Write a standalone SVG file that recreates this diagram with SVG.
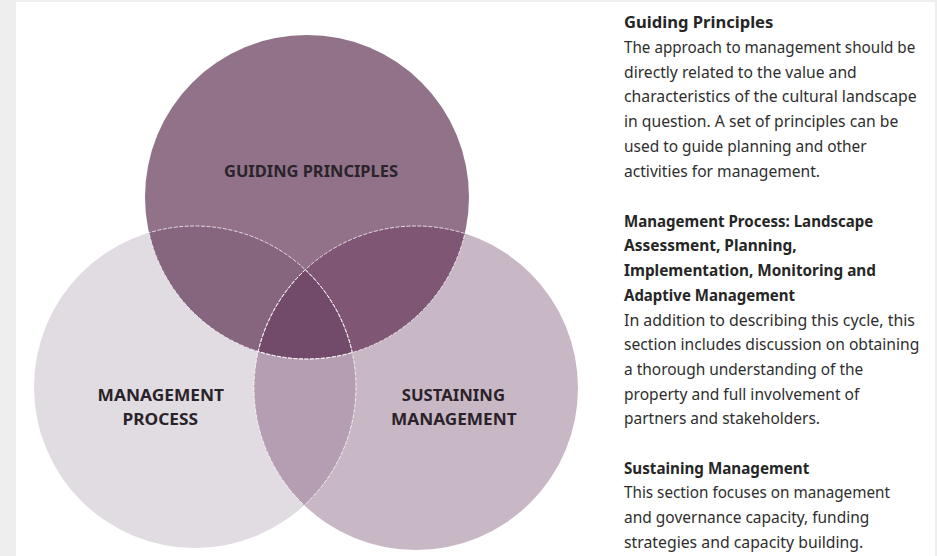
<svg xmlns="http://www.w3.org/2000/svg" width="937" height="556" viewBox="0 0 937 556">
<style>
.lbl{font-family:"Noto Sans","Open Sans","Liberation Sans",sans-serif;font-weight:bold;font-size:16.5px;fill:#2a2329;}
.hd{font-family:"Noto Sans","Liberation Sans",sans-serif;font-weight:bold;font-size:16.5px;fill:#262626;}
.tx{font-family:"Noto Sans","Liberation Sans",sans-serif;font-size:16.5px;fill:#2e2e2e;}
.edge{fill:none;stroke:#ffffff;stroke-width:0.9;stroke-dasharray:4 1.5;opacity:0.85;}
</style>
<defs>
<clipPath id="cT"><circle cx="307" cy="197" r="162"/></clipPath>
<clipPath id="cL"><circle cx="195" cy="387" r="161"/></clipPath>
<clipPath id="cR"><circle cx="416" cy="388" r="162"/></clipPath>
</defs>
<rect x="0" y="0" width="937" height="556" fill="#eeeeee"/>
<rect x="16" y="2" width="919" height="554" fill="#ffffff"/>

<g id="circle-management-process">
<circle cx="195" cy="387" r="161" fill="#e1dbe2"/>
</g>
<g id="circle-sustaining-management">
<circle cx="416" cy="388" r="162" fill="#c8b8c5"/>
</g>
<g id="circle-guiding-principles">
<circle cx="307" cy="197" r="162" fill="#917289"/>
</g>
<g id="overlaps">
<circle cx="195" cy="387" r="161" fill="#86657f" clip-path="url(#cT)"/>
<circle cx="416" cy="388" r="162" fill="#7f5674" clip-path="url(#cT)"/>
<circle cx="416" cy="388" r="162" fill="#b59eb2" clip-path="url(#cL)"/>
<g clip-path="url(#cT)"><circle cx="416" cy="388" r="162" fill="#734b6a" clip-path="url(#cL)"/></g>
</g>
<g id="connectors">
<circle class="edge" cx="307" cy="197" r="162" clip-path="url(#cL)"/>
<circle class="edge" cx="307" cy="197" r="162" clip-path="url(#cR)"/>
<circle class="edge" cx="195" cy="387" r="161" clip-path="url(#cT)"/>
<circle class="edge" cx="195" cy="387" r="161" clip-path="url(#cR)"/>
<circle class="edge" cx="416" cy="388" r="162" clip-path="url(#cT)"/>
<circle class="edge" cx="416" cy="388" r="162" clip-path="url(#cL)"/>
</g>
<g id="labels">
<text class="lbl" x="224" y="177" textLength="174" lengthAdjust="spacingAndGlyphs">GUIDING PRINCIPLES</text>
<text class="lbl" x="97.6" y="400.7" textLength="126.4" lengthAdjust="spacingAndGlyphs">MANAGEMENT</text>
<text class="lbl" x="122.5" y="424.5" textLength="75.5" lengthAdjust="spacingAndGlyphs">PROCESS</text>
<text class="lbl" x="401.8" y="400.7" textLength="103.2" lengthAdjust="spacingAndGlyphs">SUSTAINING</text>
<text class="lbl" x="391" y="424.5" textLength="125.6" lengthAdjust="spacingAndGlyphs">MANAGEMENT</text>
</g>
<g id="text-guiding-principles">
<text class="hd" x="624" y="28.3" textLength="149.3" lengthAdjust="spacingAndGlyphs">Guiding Principles</text>
<text class="tx" x="624" y="53" textLength="291.3" lengthAdjust="spacingAndGlyphs">The approach to management should be</text>
<text class="tx" x="624" y="77.7" textLength="232.7" lengthAdjust="spacingAndGlyphs">directly related to the value and</text>
<text class="tx" x="624" y="102.4" textLength="292.7" lengthAdjust="spacingAndGlyphs">characteristics of the cultural landscape</text>
<text class="tx" x="624" y="127.1" textLength="274.3" lengthAdjust="spacingAndGlyphs">in question. A set of principles can be</text>
<text class="tx" x="624" y="151.8" textLength="242.7" lengthAdjust="spacingAndGlyphs">used to guide planning and other</text>
<text class="tx" x="624" y="176.5" textLength="196" lengthAdjust="spacingAndGlyphs">activities for management.</text>
</g>
<g id="text-management-process">
<text class="hd" x="624" y="226.7" textLength="249.3" lengthAdjust="spacingAndGlyphs">Management Process: Landscape</text>
<text class="hd" x="624" y="251.4" textLength="172.7" lengthAdjust="spacingAndGlyphs">Assessment, Planning,</text>
<text class="hd" x="624" y="276.1" textLength="252" lengthAdjust="spacingAndGlyphs">Implementation, Monitoring and</text>
<text class="hd" x="624" y="300.8" textLength="171" lengthAdjust="spacingAndGlyphs">Adaptive Management</text>
<text class="tx" x="624" y="325.5" textLength="291" lengthAdjust="spacingAndGlyphs">In addition to describing this cycle, this</text>
<text class="tx" x="624" y="350.2" textLength="295.3" lengthAdjust="spacingAndGlyphs">section includes discussion on obtaining</text>
<text class="tx" x="624" y="374.9" textLength="239.3" lengthAdjust="spacingAndGlyphs">a thorough understanding of the</text>
<text class="tx" x="624" y="399.6" textLength="235.3" lengthAdjust="spacingAndGlyphs">property and full involvement of</text>
<text class="tx" x="624" y="424.3" textLength="196" lengthAdjust="spacingAndGlyphs">partners and stakeholders.</text>
</g>
<g id="text-sustaining-management">
<text class="hd" x="624" y="473.7" textLength="185.3" lengthAdjust="spacingAndGlyphs">Sustaining Management</text>
<text class="tx" x="624" y="498.4" textLength="266" lengthAdjust="spacingAndGlyphs">This section focuses on management</text>
<text class="tx" x="624" y="523.1" textLength="245.3" lengthAdjust="spacingAndGlyphs">and governance capacity, funding</text>
<text class="tx" x="624" y="547.8" textLength="239.3" lengthAdjust="spacingAndGlyphs">strategies and capacity building.</text>
</g>
</svg>
